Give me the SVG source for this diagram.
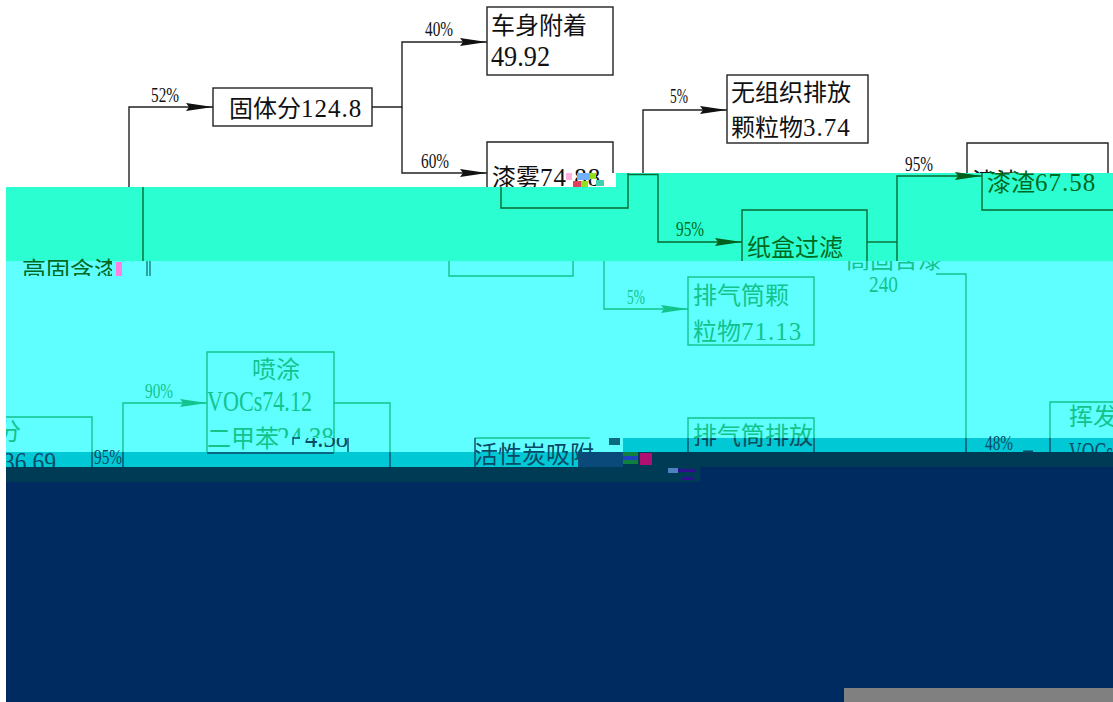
<svg xmlns="http://www.w3.org/2000/svg" width="1113" height="702" viewBox="0 0 1113 702">
<style>
text{font-family:"Liberation Serif","Noto Sans CJK SC",serif;font-size:24px}
.p{font-size:20px}
.n{font-size:25px;letter-spacing:1px}
.w{font-size:29px;letter-spacing:0}
.k{fill:#111}.g{fill:#006a1e}.c{fill:#12c48c}.d{fill:#0a4a66}
.bk,.bg,.bc,.bd{fill:none;stroke-width:1.4}
.bk{stroke:#222}.bg{stroke:#0a6a30}.bc{stroke:#12c48c}.bd{stroke:#0a4a66}
</style>
<defs>
<clipPath id="cw"><rect x="0" y="0" width="1113" height="187"/></clipPath>
<clipPath id="cw2"><rect x="0" y="0" width="1113" height="173"/></clipPath>
<clipPath id="cc"><rect x="6" y="261" width="1107" height="191"/></clipPath>
<clipPath id="ct1"><rect x="6" y="452" width="1107" height="15"/></clipPath>
<clipPath id="ct2"><rect x="6" y="438" width="1107" height="14"/></clipPath>
<clipPath id="cn"><rect x="22" y="250" width="90" height="26"/></clipPath>
<clipPath id="cf"><rect x="6" y="410" width="100" height="42"/></clipPath>
<clipPath id="cp"><rect x="200" y="340" width="140" height="98"/></clipPath>
<clipPath id="cq"><rect x="470" y="438" width="125" height="29"/></clipPath>
<marker id="ak" markerUnits="userSpaceOnUse" markerWidth="28" markerHeight="10" refX="27" refY="5" orient="auto"><path d="M0 1 L27 5 L0 9 L3 5Z" fill="#111"/></marker>
<marker id="ag" markerUnits="userSpaceOnUse" markerWidth="28" markerHeight="10" refX="27" refY="5" orient="auto"><path d="M0 1 L27 5 L0 9 L3 5Z" fill="#00601c"/></marker>
<marker id="ac" markerUnits="userSpaceOnUse" markerWidth="28" markerHeight="10" refX="27" refY="5" orient="auto"><path d="M0 1 L27 5 L0 9 L3 5Z" fill="#12c48c"/></marker>
</defs>
<rect width="1113" height="702" fill="#fff"/>
<g id="bands">
<rect x="6" y="187" width="1107" height="74" fill="#2bffd2"/>
<rect x="616" y="173" width="497" height="14" fill="#2bffd2"/>
<rect x="6" y="261" width="1107" height="191" fill="#5fffff"/>
<rect x="6" y="452" width="1107" height="15" fill="#00c8d4"/>
<rect x="6" y="467" width="1107" height="15" fill="#003b55"/>
<rect x="6" y="482" width="1107" height="220" fill="#002b60"/>
<rect x="623" y="438" width="490" height="14" fill="#00c8d4"/>
<rect x="623" y="452" width="490" height="15" fill="#003b55"/>
<rect x="623" y="467" width="490" height="15" fill="#003b55"/>
<rect x="700" y="467" width="413" height="15" fill="#002b60"/>
<rect x="844" y="688" width="269" height="14" fill="#808080"/>
</g>
<g id="connectors">
<path class="bk" d="M129 187V107H213" marker-end="url(#ak)"/>
<path class="bk" d="M372 107H402V42H487" marker-end="url(#ak)"/>
<path class="bk" d="M402 107V173H487" marker-end="url(#ak)"/>
<path class="bk" d="M643 173V110H727" marker-end="url(#ak)"/>
<path class="bg" d="M143 187V261"/>
<path class="bg" d="M628 174.500H658V242H742" marker-end="url(#ag)"/>
<path class="bg" d="M867 242H897"/>
<path class="bg" d="M897 261V176H982" marker-end="url(#ag)"/>
<path class="bc" d="M604 261V309H688" marker-end="url(#ac)"/>
<path class="bc" d="M936 274H966V438"/>
<path class="bc" d="M123 452V403H207" marker-end="url(#ac)"/>
<path class="bc" d="M334 403H390V452"/>
<path class="bd" d="M123 452V467M390 452V467M966 438V452"/>
<path d="M1023 451.500H1033" stroke="#0a4a66" stroke-width="2"/>
</g>
<g id="labels">
<text class="p k" x="151" y="102" textLength="28" lengthAdjust="spacingAndGlyphs">52%</text>
<text class="p k" x="425" y="36" textLength="28" lengthAdjust="spacingAndGlyphs">40%</text>
<text class="p k" x="421" y="168" textLength="28" lengthAdjust="spacingAndGlyphs">60%</text>
<text class="p k" x="670" y="103" textLength="18" lengthAdjust="spacingAndGlyphs">5%</text>
<text class="p k" x="905" y="171" textLength="28" lengthAdjust="spacingAndGlyphs">95%</text>
<text class="p g" x="676" y="236" textLength="28" lengthAdjust="spacingAndGlyphs">95%</text>
<text class="p c" x="627" y="304" textLength="18" lengthAdjust="spacingAndGlyphs">5%</text>
<text class="p c" x="145" y="398" textLength="28" lengthAdjust="spacingAndGlyphs">90%</text>
<text class="p d" x="94" y="464" textLength="28" lengthAdjust="spacingAndGlyphs">95%</text>
<text class="p d" x="985" y="450" textLength="28" lengthAdjust="spacingAndGlyphs">48%</text>
</g>
<g id="n-solid"><rect class="bk" x="213" y="88" width="159" height="38" fill="#fff"/><text class="k" x="229" y="117">固体分<tspan class="n">124.8</tspan></text></g>
<g id="n-body"><rect class="bk" x="487" y="7" width="126" height="68"/><text class="k" x="491" y="34">车身附着</text><text class="k w" x="491" y="66" textLength="59" lengthAdjust="spacingAndGlyphs">49.92</text></g>
<g id="n-mist"><path class="bk" d="M487 187V142H613V173"/><g clip-path="url(#cw)"><text class="k" x="492" y="186">漆雾<tspan class="n">74.88</tspan></text></g><path class="bg" d="M501 187V208H628V173"/><g id="mist-noise"><rect x="566" y="173" width="8" height="14" fill="#fff"/><rect x="566" y="173" width="6" height="7" fill="#ffb0e0"/><rect x="577" y="173" width="13" height="7" fill="#70b0ff"/><rect x="590" y="173" width="6" height="6" fill="#90e020"/><rect x="573" y="181" width="8" height="6" fill="#e04060"/><rect x="581" y="181" width="7" height="6" fill="#90e020"/><rect x="596" y="180" width="8" height="6" fill="#40d0b0"/></g></g>
<g id="n-fug"><rect class="bk" x="727" y="75" width="141" height="68"/><text class="k" x="731" y="101">无组织排放</text><text class="k" x="731" y="136">颗粒物<tspan class="n">3.74</tspan></text></g>
<g id="n-residue-top"><path class="bk" d="M967 173V143H1108V173"/><g clip-path="url(#cw2)"><text class="k" x="972" y="190">漆渣</text></g></g>
<g id="n-residue"><path class="bg" d="M982 173V210H1113"/><text class="g" x="987" y="191">漆渣<tspan class="n">67.58</tspan></text></g>
<g id="n-filter"><path class="bg" d="M742 261V210H867V261"/><text class="g" x="747" y="256">纸盒过滤</text></g>
<g id="n-paint"><g clip-path="url(#cn)"><text class="g" x="22" y="279">高固含漆</text></g><path d="M147 261V276M150 261V276" stroke="#0a6a60" stroke-width="1.200"/><rect x="116" y="262" width="6" height="14" fill="#ff80e0"/></g>
<g id="n-lower"><path class="bc" d="M449 261V276H573V261"/></g>
<g id="n-stack"><rect class="bc" x="688" y="277" width="126" height="68"/><text class="c" x="693" y="304">排气筒颗</text><text class="c" x="693" y="340">粒物<tspan class="n">71.13</tspan></text></g>
<g id="n-solids"><g clip-path="url(#cc)"><text class="c" x="846" y="268">高固含漆</text></g><text class="c" x="869" y="292" textLength="29" lengthAdjust="spacingAndGlyphs">240</text></g>
<g id="n-spray"><path class="bc" d="M207 452V352H334V452"/><g clip-path="url(#cp)"><text class="c" x="252" y="378">喷涂</text><text class="c w" x="207" y="411" textLength="105" lengthAdjust="spacingAndGlyphs">VOCs74.12</text></g><text class="c" x="207" y="447" clip-path="url(#cc)">二甲苯</text><text class="c w" x="277" y="447" clip-path="url(#cp)" textLength="57" lengthAdjust="spacingAndGlyphs">24.38</text><text class="d w" x="305" y="447" clip-path="url(#ct2)" textLength="43" lengthAdjust="spacingAndGlyphs">4.38</text><path class="bd" d="M207 453H334"/><path class="bd" d="M348 438V452M293 445V438H300"/></g>
<g id="n-left"><path class="bc" d="M6 417H92V452"/><path class="bd" d="M92 452V467"/><text class="c" x="-3" y="440" clip-path="url(#cf)">分</text><text class="d w" x="3" y="472" clip-path="url(#ct1)" textLength="53" lengthAdjust="spacingAndGlyphs">36.69</text></g>
<g id="n-carbon"><path class="bc" d="M475 438H590"/><path class="bd" d="M475 438V467"/><g clip-path="url(#cq)"><text class="d" x="474" y="463">活性炭吸附</text></g><g id="carbon-noise"><rect x="578" y="452" width="45" height="15" fill="#0a4a7a"/><rect x="609" y="438" width="11" height="7" fill="#0a6a80"/><rect x="623" y="452" width="15" height="4" fill="#108040"/><rect x="623" y="456" width="15" height="4" fill="#2040c0"/><rect x="623" y="460" width="15" height="4" fill="#108040"/><rect x="640" y="453" width="12" height="12" fill="#b01070"/><rect x="668" y="468" width="10" height="5" fill="#5080c0"/><rect x="678" y="469" width="18" height="3" fill="#301090"/><rect x="682" y="477" width="12" height="3" fill="#301090"/></g></g>
<g id="n-out"><path class="bc" d="M688 438V418H814V438"/><path class="bd" d="M688 438V452M814 438V452"/><text class="c" x="693" y="444" clip-path="url(#cc)">排气筒排放</text><text class="d" x="693" y="444" clip-path="url(#ct2)">排气筒排放</text></g>
<g id="n-vol"><path class="bc" d="M1050 438V402H1113"/><path class="bd" d="M1050 438V452"/><text class="c" x="1069" y="425">挥发</text><text class="d w" x="1069" y="462" clip-path="url(#ct2)" textLength="44" lengthAdjust="spacingAndGlyphs">VOCs</text></g>
</svg>
